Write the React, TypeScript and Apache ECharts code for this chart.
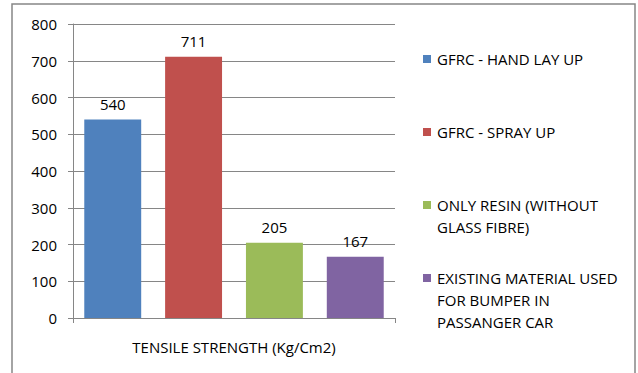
import React, { useEffect, useRef } from "react";
import * as echarts from "echarts";

const categories = ["TENSILE STRENGTH (Kg/Cm2)"];
const seriesNames = [
  "GFRC - HAND LAY UP",
  "GFRC - SPRAY UP",
  "ONLY RESIN (WITHOUT GLASS FIBRE)",
  "EXISTING MATERIAL USED FOR BUMPER IN PASSANGER CAR",
];
const legendLines = [
  ["GFRC - HAND LAY UP"],
  ["GFRC - SPRAY UP"],
  ["ONLY RESIN (WITHOUT", "GLASS FIBRE)"],
  ["EXISTING MATERIAL USED", "FOR BUMPER IN", "PASSANGER CAR"],
];
const values = [540, 711, 205, 167];
const colors = ["#4F81BD", "#C0504D", "#9BBB59", "#8064A2"];
const yTicks = { min: 0, max: 800, interval: 100 };

const FONT = "'Open Sans', 'Liberation Sans', sans-serif";

export default function App() {
  const ref = useRef<HTMLDivElement>(null);

  useEffect(() => {
    if (!ref.current) return;
    const chart = echarts.init(ref.current, undefined, { renderer: "svg" });

    // legend entries: top of first line for each entry
    const legendTops = [51, 124, 197, 270];
    const lineH = 22;
    const legendGraphics: any[] = [];
    legendLines.forEach((lines, i) => {
      legendGraphics.push({
        type: "rect",
        shape: { x: 423, y: legendTops[i] + 4, width: 8, height: 8 },
        style: { fill: colors[i] },
      });
      lines.forEach((ln, j) => {
        legendGraphics.push({
          type: "text",
          x: 437,
          y: legendTops[i] + j * lineH + 8,
          style: {
            text: ln,
            fill: "#000",
            font: `15px ${FONT}`,
            verticalAlign: "middle",
          },
        });
      });
    });

    chart.setOption({
      animation: false,
      backgroundColor: "#fff",
      grid: { left: 73, top: 24, right: 243, bottom: 55 },
      xAxis: {
        type: "category",
        data: categories,
        axisLine: { lineStyle: { color: "#868686" } },
        axisTick: { show: true, length: 5, lineStyle: { color: "#868686" } },
        axisLabel: { color: "#000", fontFamily: FONT, fontSize: 15, margin: 21 },
      },
      yAxis: {
        type: "value",
        min: yTicks.min,
        max: yTicks.max,
        interval: yTicks.interval,
        axisLine: { show: true, lineStyle: { color: "#868686" } },
        axisTick: { show: true, length: 5, lineStyle: { color: "#868686" } },
        splitLine: { lineStyle: { color: "#868686" } },
        axisLabel: { color: "#000", fontFamily: FONT, fontSize: 15, margin: 16 },
      },
      series: seriesNames.map((name, i) => ({
        name,
        type: "bar",
        data: [values[i]],
        barGap: "42%",
        barCategoryGap: "7%",
        itemStyle: { color: colors[i] },
        label: {
          show: true,
          position: "top",
          distance: 8,
          color: "#000",
          fontFamily: FONT,
          fontSize: 15,
        },
      })),
      graphic: [
        {
          type: "rect",
          silent: true,
          shape: { x: 12, y: 4, width: 623, height: 400 },
          style: { fill: "none", stroke: "#868686", lineWidth: 1.5 },
        },
        ...legendGraphics,
      ],
    });

    return () => chart.dispose();
  }, []);

  return (
    <div
      ref={ref}
      style={{ position: "absolute", left: 0, top: 0, width: 638, height: 373 }}
    />
  );
}
